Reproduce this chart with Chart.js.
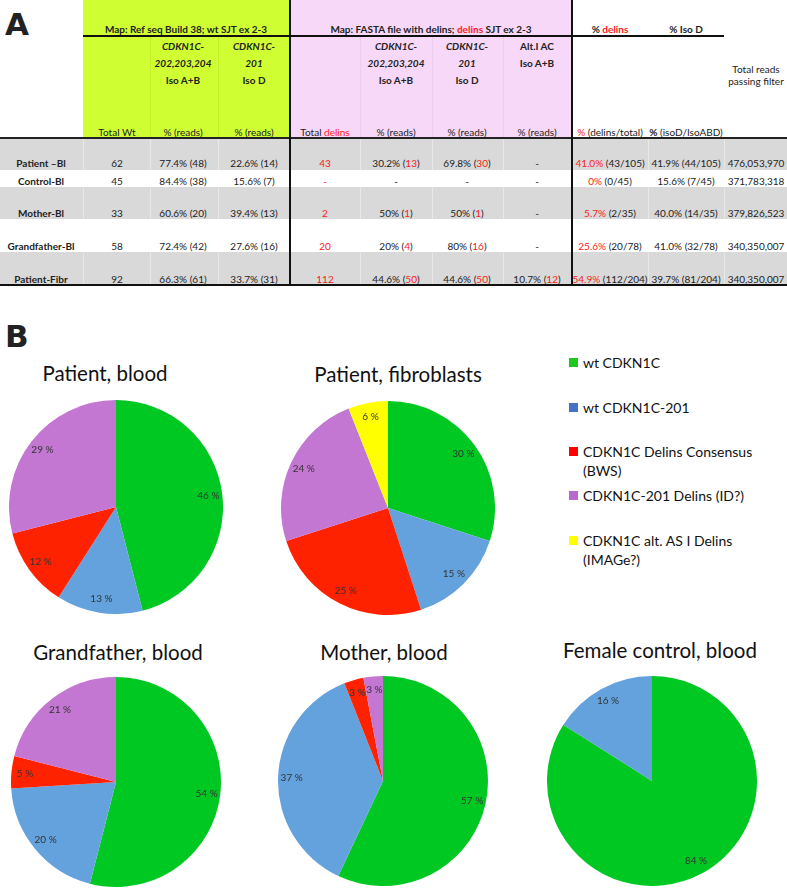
<!DOCTYPE html>
<html><head><meta charset="utf-8">
<script src="https://cdn.jsdelivr.net/npm/chart.js@4/dist/chart.umd.min.js"></script>
<style>
html,body{margin:0;padding:0;background:#fff;}
#root{position:relative;width:787px;height:889px;overflow:hidden;font-family:Lato,"Open Sans",sans-serif;color:#222;}
.abs{position:absolute;}
.t{position:absolute;font-size:10px;white-space:nowrap;transform:translate(-50%,-50%);line-height:1;}
.b{font-weight:bold;}
.i{font-style:italic;}
.r{color:#ff1a1a;}
.panel{position:absolute;font-family:"DejaVu Sans",sans-serif;font-weight:900;font-size:31px;line-height:1;}
.ptitle{position:absolute;font-size:20.5px;white-space:nowrap;transform:translate(-50%,-50%);line-height:1;color:#111;}
.leg{position:absolute;font-size:14px;line-height:19px;color:#111;white-space:nowrap;}
.sq{position:absolute;width:9px;height:9px;}
</style></head>
<body><div id="root"></div>
<script>
// ---------- DATA ----------
const sliceNames = ['wt CDKN1C','wt CDKN1C-201','CDKN1C Delins Consensus (BWS)','CDKN1C-201 Delins (ID?)','CDKN1C alt. AS I Delins (IMAGe?)'];
const patientBlood = [46,13,12,29];
const patientFibro = [30,15,25,24,6];
const grandfatherBlood = [54,20,5,21];
const motherBlood = [57,37,3,3];
const controlBlood = [84,16];
const pieTitles = ['Patient, blood','Patient, fibroblasts','Grandfather, blood','Mother, blood','Female control, blood'];

const rowLabels = ['Patient \u2013Bl','Control-Bl','Mother-Bl','Grandfather-Bl','Patient-Fibr'];
const totalWt = ['62','45','33','58','92'];
const isoAB = ['77.4% (48)','84.4% (38)','60.6% (20)','72.4% (42)','66.3% (61)'];
const isoD = ['22.6% (14)','15.6% (7)','39.4% (13)','27.6% (16)','33.7% (31)'];
const totalDelins = ['43','-','2','20','112'];
const delAB = [['30.2%','13'],null,['50%','1'],['20%','4'],['44.6%','50']];
const delD = [['69.8%','30'],null,['50%','1'],['80%','16'],['44.6%','50']];
const altI = [null,null,null,null,['10.7%','12']];
const pctDelins = [['41.0%','(43/105)'],['0%','(0/45)'],['5.7%','(2/35)'],['25.6%','(20/78)'],['54.9%','(112/204)']];
const pctIsoD = ['41.9% (44/105)','15.6% (7/45)','40.0% (14/35)','41.0% (32/78)','39.7% (81/204)'];
const totalReads = ['476,053,970','371,783,318','379,826,523','340,350,007','340,350,007'];

// ---------- LAYOUT ----------
const root = document.getElementById('root');
function box(x,y,w,h,bg){const d=document.createElement('div');d.className='abs';d.style.cssText=`left:${x}px;top:${y}px;width:${w}px;height:${h}px;background:${bg}`;root.appendChild(d);return d;}
function txt(x,y,html,cls){const d=document.createElement('div');d.className='t '+(cls||'');d.style.left=x+'px';d.style.top=y+'px';d.innerHTML=html;root.appendChild(d);return d;}

// backgrounds
box(83,0,206,137,'#cfff33');
box(290,0,282,137,'#f8d8f8');
const rowBands = [[138,32,true],[170,17,false],[187,32,true],[219,33,false],[252,33,true]];
rowBands.forEach(b=>{ if(b[2]) box(0,b[0],787,b[1],'#d9d9d9'); });
// faint grid in grey rows
const faintX=[83,150,218,360,432,503,648,724];
rowBands.forEach(b=>{ if(b[2]) faintX.forEach(x=>box(x,b[0],1,b[1],'#e8e8e8')); });
[150,218].forEach(x=>box(x,36,1,101,'#c2ee2a'));
[360,432,503].forEach(x=>box(x,36,1,101,'#eccdec'));
// lines
box(83,35,641,1.5,'#111');
box(0,137,787,1.5,'#222');
box(0,284,787,2,'#111');
box(289,0,1.5,285,'#111');
box(571,0,1.5,285,'#111');

// panel letters
const pa=document.createElement('div');pa.className='panel';pa.style.left='5px';pa.style.top='9px';pa.textContent='A';root.appendChild(pa);
const pb=document.createElement('div');pb.className='panel';pb.style.left='5px';pb.style.top='321px';pb.textContent='B';root.appendChild(pb);

// table header
const cx = {lab:41, wt:117, ab:183, d:254, tdel:325, dab:396, dd:467, alt:537, pdel:610, piso:686, reads:756};
txt(186,29,'Map: Ref seq Build 38; wt SJT ex 2-3','b');
txt(431,29,'Map: FASTA file with delins; <span class="r">delins</span> SJT ex 2-3','b');
txt(cx.pdel,29,'% <span class="r">delins</span>','b');
txt(cx.piso,29,'% Iso D','b');
[[cx.ab,'202,203,204','Iso A+B'],[cx.d,'201','Iso D'],[cx.dab,'202,203,204','Iso A+B'],[cx.dd,'201','Iso D']].forEach(c=>{
  txt(c[0],46,'CDKN1C-','b i'); txt(c[0],63,c[1],'b i'); txt(c[0],80,c[2],'b');
});
txt(cx.alt,46,'Alt.I AC','b'); txt(cx.alt,63,'Iso A+B','b');
txt(cx.reads,69,'Total reads'); txt(cx.reads,81,'passing filter');
txt(cx.wt,132,'Total Wt'); txt(cx.ab,132,'% (reads)'); txt(cx.d,132,'% (reads)');
txt(cx.tdel,132,'Total <span class="r">delins</span>');
txt(cx.dab,132,'% (reads)'); txt(cx.dd,132,'% (reads)'); txt(cx.alt,132,'% (reads)');
txt(cx.pdel,132,'<span class="r">%</span> (delins/total)');
txt(cx.piso,132,'<b>%</b> (isoD/IsoABD)');

// table rows
const rowY = [163,181,213,246,279];
const pr = p => p ? `${p[0]} (<span class="r">${p[1]}</span>)` : '-';
rowLabels.forEach((lab,i)=>{
  const y=rowY[i];
  txt(cx.lab,y,lab,'b');
  txt(cx.wt,y,totalWt[i]);
  txt(cx.ab,y,isoAB[i]);
  txt(cx.d,y,isoD[i]);
  txt(cx.tdel,y,totalDelins[i],'r');
  txt(cx.dab,y,pr(delAB[i]));
  txt(cx.dd,y,pr(delD[i]));
  txt(cx.alt,y,pr(altI[i]));
  txt(cx.pdel,y,`<span class="r">${pctDelins[i][0]}</span> ${pctDelins[i][1]}`);
  txt(cx.piso,y,pctIsoD[i]);
  txt(cx.reads,y,totalReads[i]);
});

// ---------- PIES ----------
const sliceColors = ['#00c823','#64a2de','#ff2200','#c477d2','#ffff00'];
const legendColors = ['#1ec81e','#4472c4','#ff0000','#b868d0','#ffff00'];

const pctLabels = {
  id:'pctLabels',
  afterDatasetsDraw(chart){
    const ctx=chart.ctx, meta=chart.getDatasetMeta(0), data=chart.data.datasets[0].data;
    ctx.save();
    ctx.font='10px Lato, "Open Sans", sans-serif';
    ctx.fillStyle='#333';ctx.textAlign='center';ctx.textBaseline='middle';
    meta.data.forEach((arc,i)=>{
      const p=arc.getProps(['x','y','startAngle','endAngle','outerRadius'],true);
      const mid=(p.startAngle+p.endAngle)/2, r=p.outerRadius*0.87;
      ctx.fillText(data[i]+' %', p.x+Math.cos(mid)*r, p.y+Math.sin(mid)*r);
    });
    ctx.restore();
  }
};

const pies = [
  {data:patientBlood, title:pieTitles[0], cx:116, cy:507, r:107, tx:105, ty:373},
  {data:patientFibro, title:pieTitles[1], cx:388, cy:508, r:107, tx:398, ty:374},
  {data:grandfatherBlood, title:pieTitles[2], cx:116, cy:782, r:105, tx:118, ty:652},
  {data:motherBlood, title:pieTitles[3], cx:383, cy:781, r:105, tx:384, ty:652},
  {data:controlBlood, title:pieTitles[4], cx:652, cy:781, r:105, tx:660, ty:650}
];
pies.forEach(p=>{
  const t=document.createElement('div');t.className='ptitle';t.style.left=p.tx+'px';t.style.top=p.ty+'px';t.textContent=p.title;root.appendChild(t);
  const c=document.createElement('canvas');
  c.width=2*p.r;c.height=2*p.r;
  c.style.cssText=`position:absolute;left:${p.cx-p.r}px;top:${p.cy-p.r}px;width:${2*p.r}px;height:${2*p.r}px;`;
  root.appendChild(c);
  new Chart(c,{
    type:'pie',
    data:{labels:sliceNames.slice(0,p.data.length),datasets:[{data:p.data,backgroundColor:sliceColors.slice(0,p.data.length),borderWidth:0,hoverOffset:0,offset:0}]},
    options:{responsive:false,animation:false,devicePixelRatio:1,layout:{padding:0},
      plugins:{legend:{display:false},tooltip:{enabled:false}},events:[]},
    plugins:[pctLabels]
  });
});

// legend
const legItems = [
  {y:363, lines:[sliceNames[0]]},
  {y:408, lines:[sliceNames[1]]},
  {y:452, lines:['CDKN1C Delins Consensus','(BWS)']},
  {y:496, lines:[sliceNames[3]]},
  {y:541, lines:['CDKN1C alt. AS I Delins','(IMAGe?)']}
];
legItems.forEach((it,i)=>{
  const s=document.createElement('div');s.className='sq';s.style.left='569px';s.style.top=(it.y-5)+'px';s.style.background=legendColors[i];root.appendChild(s);
  const d=document.createElement('div');d.className='leg';d.style.left='583px';d.style.top=(it.y-10)+'px';d.innerHTML=it.lines.join('<br>');root.appendChild(d);
});
</script>
</body></html>
